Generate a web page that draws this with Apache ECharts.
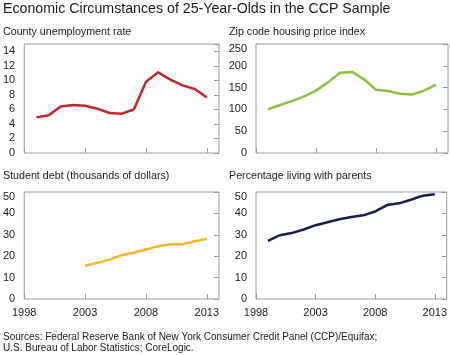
<!DOCTYPE html>
<html><head><meta charset="utf-8">
<script src="https://cdn.jsdelivr.net/npm/echarts@6/dist/echarts.min.js"></script>
<style>html,body{margin:0;padding:0;background:#fff}#c{width:450px;height:355px}</style>
</head><body><div id="c"></div>
<script>
const years = [1999,2000,2001,2002,2003,2004,2005,2006,2007,2008,2009,2010,2011,2012,2013];
const unemployment = [4.9,5.2,6.4,6.6,6.5,6.1,5.5,5.4,6.0,9.8,11.1,10.1,9.3,8.8,7.65];
const housing = [100,110,119,130,143,162,184,186,169,145,142,136,134,143,157];
const debtYears = [2003,2004,2005,2006,2007,2008,2009,2010,2011,2012,2013];
const studentDebt = [15.5,16.9,18.4,20.5,21.6,23.1,24.7,25.6,25.6,27.0,28.1];
const livingWithParents = [27.2,29.8,30.8,32.5,34.5,35.9,37.3,38.3,39.1,40.9,43.9,44.7,46.4,48.3,48.9];
const xTicks = [1998,2003,2008,2013];
const panelTitles = ['County unemployment rate','Zip code housing price index','Student debt (thousands of dollars)','Percentage living with parents'];
// [min, max, interval, top tick label]
const yRanges = [[0,15,2,14],[0,250,50,250],[0,50,10,50],[0,50,10,50]];

const FONT = '"Liberation Sans", Arial, sans-serif';
const TXT = '#1a1a1a';
const BORDER = '#9a9a9a';
const grids = [
  {left:24, top:44, width:195, height:109},
  {left:256, top:44, width:192, height:109},
  {left:24, top:192, width:195, height:107},
  {left:256, top:192, width:192, height:107}
];
const seriesDefs = [
  {x:years, y:unemployment, color:'#c1272d'},
  {x:years, y:housing, color:'#8dc043'},
  {x:debtYears, y:studentDebt, color:'#f4b630'},
  {x:years, y:livingWithParents, color:'#1c1d4f'}
];
const xAxes = [], yAxes = [], series = [];
grids.forEach((g,i)=>{
  g.show = true; g.borderColor = BORDER; g.borderWidth = 1; g.backgroundColor='transparent';
  xAxes.push({gridIndex:i, type:'value', min:1998, max:2014,
    axisLine:{show:false},
    axisTick:{show:true, inside:true, length:5, customValues:xTicks, lineStyle:{color:BORDER}},
    axisLabel:{show:i>=2, customValues:xTicks, formatter:v=>String(v), fontSize:11, color:TXT, margin:8, fontFamily:FONT},
    splitLine:{show:false}});
  const r = yRanges[i];
  yAxes.push({gridIndex:i, type:'value', min:r[0], max:r[1], interval:r[2], position:'left',
    axisLine:{show:false}, axisTick:{show:false},
    axisLabel:{fontSize:11, color:TXT, margin:9, fontFamily:FONT, showMaxLabel: r[1]===r[3],
      formatter: v => (v===r[1] ? '{t|'+v+'}' : String(v)),
      rich:{t:{fontSize:11, color:TXT, fontFamily:FONT, padding:[9.5,0,0,0]}}},
    splitLine:{show:false}});
  yAxes.push({gridIndex:i, type:'value', min:r[0], max:r[1], interval:r[2], position:'right',
    axisLine:{show:false}, axisTick:{show:true, inside:true, length:5, lineStyle:{color:BORDER}},
    axisLabel:{show:false}, splitLine:{show:false}});
  const d = seriesDefs[i];
  series.push({type:'line', xAxisIndex:i, yAxisIndex:2*i, data:d.x.map((x,k)=>[x,d.y[k]]),
    symbol:'none', lineStyle:{width:2.5, color:d.color}, itemStyle:{color:d.color}, animation:false});
});
const titles = [
  {text:'Economic Circumstances of 25-Year-Olds in the CCP Sample', left:3, top:2,
   textStyle:{fontSize:14.2, fontWeight:'normal', color:TXT, fontFamily:FONT}},
  {text:panelTitles[0], left:3, top:27, textStyle:{fontSize:10.7, fontWeight:'normal', color:TXT, fontFamily:FONT}},
  {text:panelTitles[1], left:229, top:27, textStyle:{fontSize:10.7, fontWeight:'normal', color:TXT, fontFamily:FONT}},
  {text:panelTitles[2], left:3, top:171, textStyle:{fontSize:10.7, fontWeight:'normal', color:TXT, fontFamily:FONT}},
  {text:panelTitles[3], left:229, top:171, textStyle:{fontSize:10.7, fontWeight:'normal', color:TXT, fontFamily:FONT}},
  {text:'Sources: Federal Reserve Bank of New York Consumer Credit Panel (CCP)/Equifax;\nU.S. Bureau of Labor Statistics; CoreLogic.', left:3, top:332,
   textStyle:{fontSize:10, lineHeight:10.5, fontWeight:'normal', color:TXT, fontFamily:FONT}}
];
titles.forEach(t=>{t.padding=0;});
const chart = echarts.init(document.getElementById('c'), null, {renderer:'canvas'});
chart.setOption({animation:false, title:titles, grid:grids, xAxis:xAxes, yAxis:yAxes, series:series});
</script></body></html>
